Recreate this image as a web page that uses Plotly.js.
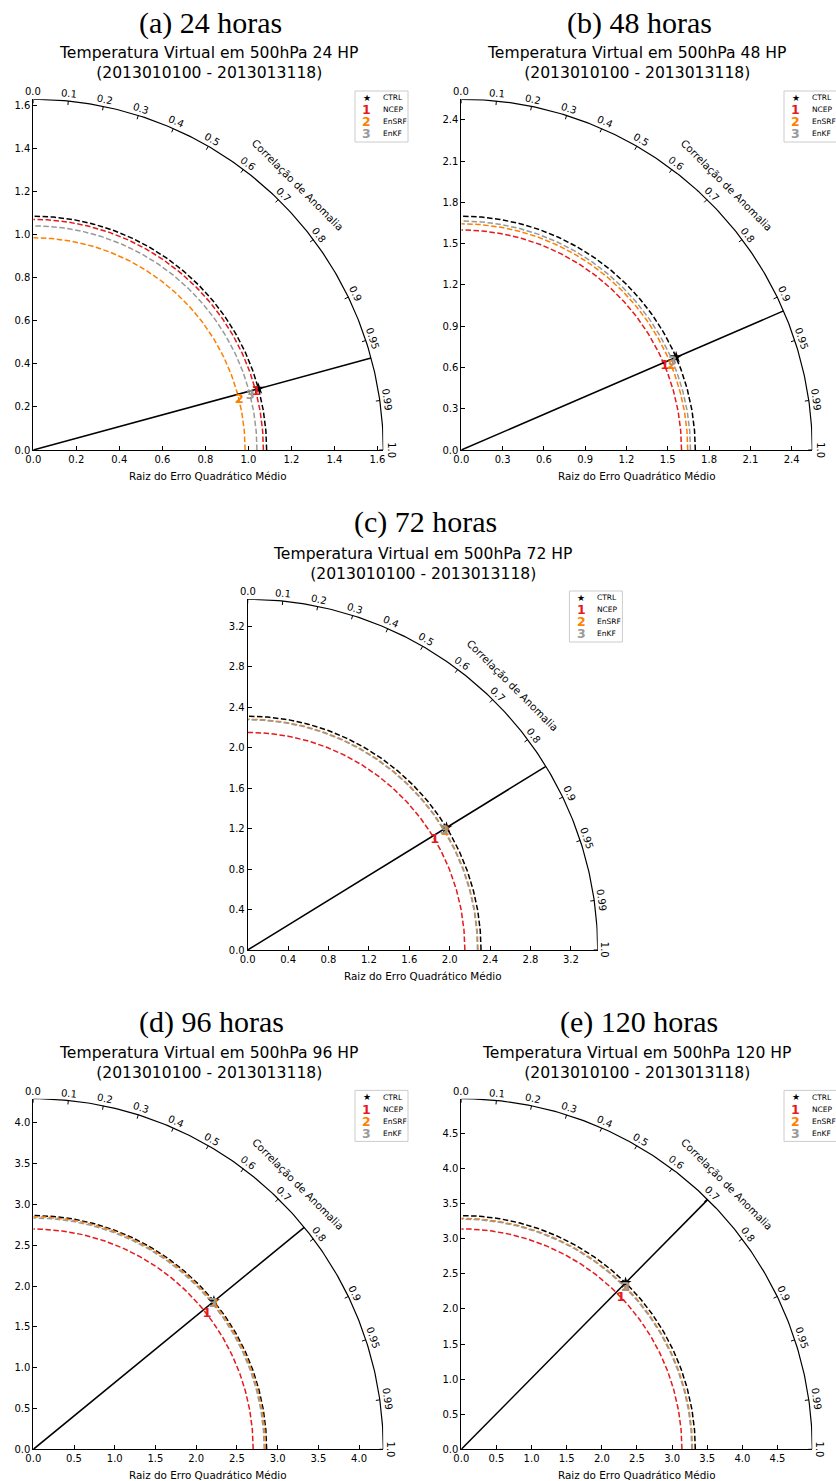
<!DOCTYPE html>
<html><head><meta charset="utf-8">
<script src="https://cdn.plot.ly/plotly-3.0.1.min.js"></script>
<style>html,body{margin:0;padding:0;background:#fff}</style>
</head><body>
<div id="chart" style="width:836px;height:1481px"></div>
<script>
// ---------------- data ----------------
const panelLabels = ['(a) 24 horas', '(b) 48 horas', '(c) 72 horas', '(d) 96 horas', '(e) 120 horas'];
const leadTimes = ['24', '48', '72', '96', '120'];
const seriesNames = ['CTRL', 'NCEP', 'EnSRF', 'EnKF'];
const markerLabels = ['', '1', '2', '3'];
const ctrlRmse  = [1.085, 1.700, 2.310, 2.865, 3.330];
const ctrlCorr  = [0.965, 0.918, 0.852, 0.774, 0.702];
const ncepRmse  = [1.070, 1.600, 2.150, 2.700, 3.140];
const ncepCorr  = [0.968, 0.924, 0.861, 0.790, 0.724];
const ensrfRmse = [0.985, 1.645, 2.280, 2.850, 3.290];
const ensrfCorr = [0.972, 0.928, 0.858, 0.779, 0.713];
const enkfRmse  = [1.040, 1.665, 2.275, 2.835, 3.280];
const enkfCorr  = [0.970, 0.922, 0.856, 0.778, 0.712];
const corrTicks = [0.0, 0.1, 0.2, 0.3, 0.4, 0.5, 0.6, 0.7, 0.8, 0.9, 0.95, 0.99, 1.0];
const corrTickLabels = ['0.0', '0.1', '0.2', '0.3', '0.4', '0.5', '0.6', '0.7', '0.8', '0.9', '0.95', '0.99', '1.0'];
const rmseTickStep = [0.2, 0.3, 0.4, 0.5, 0.5];

// ---------------- layout / style ----------------
const W = 836, H = 1481;
// plot boxes in px: left, top, right, bottom
const boxes = [
  [33.3, 99.3, 383.3, 450.0],
  [461.3, 99.3, 812.3, 450.0],
  [247.7, 599.3, 597.7, 950.0],
  [33.3, 1098.7, 383.3, 1449.3],
  [461.3, 1098.7, 812.3, 1449.3]
];
const labelPos = [[210.8, 22.5], [639.3, 22.5], [425.5, 522], [211.3, 1021.7], [639.3, 1021.7]];
const colors = ['#000000', '#e41a1c', '#ff7f00', '#999999'];
const FONT = 'DejaVu Sans, Verdana, sans-serif';
const rmseAll = [ctrlRmse, ncepRmse, ensrfRmse, enkfRmse];
const corrAll = [ctrlCorr, ncepCorr, ensrfCorr, enkfCorr];

const px = v => v / W;
const py = v => 1 - v / H;

const traces = [];
const annotations = [];
const shapes = [];
const layout = {
  width: W, height: H,
  margin: {l: 0, r: 0, t: 0, b: 0, pad: 0},
  paper_bgcolor: '#ffffff', plot_bgcolor: '#ffffff',
  showlegend: false,
  font: {family: FONT, color: '#000000', size: 10}
};

function arcPts(r) {
  const xs = [], ys = [];
  const n = 180;
  for (let j = 0; j <= n; j++) {
    const t = (Math.PI / 2) * j / n;
    xs.push(r * Math.cos(t));
    ys.push(r * Math.sin(t));
  }
  return [xs, ys];
}

for (let i = 0; i < 5; i++) {
  const k = i + 1;
  const sfx = k > 1 ? String(k) : '';
  const xa = 'x' + sfx, ya = 'y' + sfx;
  const [L, T, R, B] = boxes[i];
  const rmax = 1.5 * ctrlRmse[i];

  const axBase = {
    range: [0, rmax], showline: true, linecolor: '#000000', linewidth: 1,
    mirror: false, ticks: 'inside', ticklen: 4, tickwidth: 1, tickcolor: '#000000',
    tick0: 0, dtick: rmseTickStep[i], tickformat: '.1f', showgrid: false, zeroline: false,
    tickfont: {family: FONT, size: 10, color: '#000000'}, fixedrange: true
  };
  layout['xaxis' + sfx] = Object.assign({}, axBase, {domain: [px(L), px(R)], anchor: ya});
  layout['yaxis' + sfx] = Object.assign({}, axBase, {domain: [py(B), py(T)], anchor: xa});

  // dashed rmse arcs
  for (let s = 0; s < 4; s++) {
    const [xs, ys] = arcPts(rmseAll[s][i]);
    traces.push({type: 'scatter', mode: 'lines', x: xs, y: ys, xaxis: xa, yaxis: ya,
      line: {color: colors[s], width: 1.5, dash: '5.5px,2.5px'}, hoverinfo: 'skip'});
  }
  // outer arc
  const [ox, oy] = arcPts(rmax);
  traces.push({type: 'scatter', mode: 'lines', x: ox, y: oy, xaxis: xa, yaxis: ya,
    line: {color: '#000000', width: 1.2}, hoverinfo: 'skip'});
  // correlation ticks on outer arc
  const tx = [], ty = [];
  const rin = rmax * (1 - 4 / 350);
  corrTicks.forEach(c => {
    const t = Math.acos(c);
    tx.push(rmax * Math.cos(t), rin * Math.cos(t), null);
    ty.push(rmax * Math.sin(t), rin * Math.sin(t), null);
  });
  traces.push({type: 'scatter', mode: 'lines', x: tx, y: ty, xaxis: xa, yaxis: ya,
    line: {color: '#000000', width: 1}, hoverinfo: 'skip'});
  // CTRL correlation line
  const tc = Math.acos(ctrlCorr[i]);
  traces.push({type: 'scatter', mode: 'lines', x: [0, rmax * Math.cos(tc)], y: [0, rmax * Math.sin(tc)],
    xaxis: xa, yaxis: ya, line: {color: '#000000', width: 1.5}, hoverinfo: 'skip'});
  // CTRL star
  traces.push({type: 'scatter', mode: 'markers', x: [ctrlRmse[i] * ctrlCorr[i]],
    y: [ctrlRmse[i] * Math.sin(tc)], xaxis: xa, yaxis: ya,
    marker: {symbol: 'star', size: 9, color: '#000000'}, name: seriesNames[0]});
  // numbered markers
  for (let s = 1; s < 4; s++) {
    const t = Math.acos(corrAll[s][i]);
    traces.push({type: 'scatter', mode: 'text', x: [rmseAll[s][i] * Math.cos(t)],
      y: [rmseAll[s][i] * Math.sin(t)], xaxis: xa, yaxis: ya, text: [markerLabels[s]],
      textposition: 'middle center', cliponaxis: false,
      textfont: {family: FONT, size: 13, color: colors[s], weight: 'bold'}, name: seriesNames[s]});
  }
  // correlation tick labels
  corrTicks.forEach((c, j) => {
    const t = Math.acos(c);
    annotations.push({xref: xa, yref: ya, x: 0.9999 * rmax * Math.cos(t), y: 0.9999 * rmax * Math.sin(t),
      xshift: 7.5 * Math.cos(t), yshift: 7.5 * Math.sin(t), showarrow: false,
      text: corrTickLabels[j], textangle: 90 - t * 180 / Math.PI, xanchor: 'center', yanchor: 'middle',
      font: {family: FONT, size: 10, color: '#000000'}});
  });
  annotations.push({xref: xa, yref: ya, x: 1.07 * rmax * Math.SQRT1_2, y: 1.07 * rmax * Math.SQRT1_2,
    showarrow: false, text: 'Correlação de Anomalia', textangle: 45, xanchor: 'center', yanchor: 'middle',
    font: {family: FONT, size: 10.4, color: '#000000'}});
  // x axis title
  annotations.push({xref: 'paper', yref: 'paper', x: px((L + R) / 2), y: py(B + 26), showarrow: false,
    text: 'Raiz do Erro Quadrático Médio', xanchor: 'center', yanchor: 'middle',
    font: {family: FONT, size: 10.4, color: '#000000'}});
  // plot title
  annotations.push({xref: 'paper', yref: 'paper', x: px((L + R) / 2), y: py(T - 35.8), showarrow: false,
    text: 'Temperatura Virtual em 500hPa ' + leadTimes[i] + ' HP<br>(2013010100 - 2013013118)',
    xanchor: 'center', yanchor: 'middle', align: 'center',
    font: {family: FONT, size: 15.6, color: '#000000'}});
  // panel label
  annotations.push({xref: 'paper', yref: 'paper', x: px(labelPos[i][0]), y: py(labelPos[i][1]), showarrow: false,
    text: panelLabels[i], xanchor: 'center', yanchor: 'middle',
    font: {family: 'Liberation Serif, Times New Roman, serif', size: 30, color: '#000000'}});
  // legend box
  shapes.push({type: 'rect', xref: 'paper', yref: 'paper', x0: px(R - 28.3), x1: px(R + 24.7),
    y0: py(T + 42.7), y1: py(T - 8.3), line: {color: '#cccccc', width: 1}, fillcolor: '#ffffff', layer: 'above'});
  for (let s = 0; s < 4; s++) {
    const yy = T - 1.6 + 12 * s;
    annotations.push({xref: 'paper', yref: 'paper', x: px(R - 16.6), y: py(yy), showarrow: false,
      text: s === 0 ? '★' : '<b>' + markerLabels[s] + '</b>', xanchor: 'center', yanchor: 'middle',
      font: {family: FONT, size: s === 0 ? 9 : 12.5, color: colors[s]}});
    annotations.push({xref: 'paper', yref: 'paper', x: px(R - 2.3), y: py(yy), showarrow: false,
      text: seriesNames[s], xanchor: 'left', yanchor: 'middle',
      font: {family: FONT, size: 7.5, color: '#000000'}});
  }
}
layout.annotations = annotations;
layout.shapes = shapes;

Plotly.newPlot('chart', traces, layout, {displayModeBar: false, staticPlot: true});
</script>
</body></html>
